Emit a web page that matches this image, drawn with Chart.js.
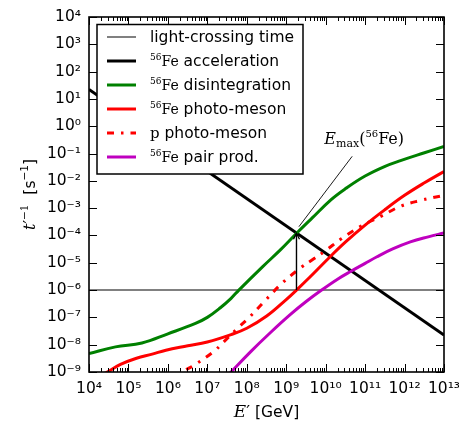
<!DOCTYPE html>
<html><head><meta charset="utf-8">
<script src="https://cdn.jsdelivr.net/npm/chart.js@4/dist/chart.umd.min.js"></script>
<style>html,body{margin:0;padding:0;background:#fff}</style>
</head><body>
<canvas id="c" width="459" height="423"></canvas>
<script>
// ---- tick values ----
const xTicks = [1e4,1e5,1e6,1e7,1e8,1e9,1e10,1e11,1e12,1e13];
const yTicks = [1e-9,1e-8,1e-7,1e-6,1e-5,1e-4,1e-3,1e-2,1e-1,1e0,1e1,1e2,1e3,1e4];
const minorMultipliers = [2,3,4,5,6,7,8,9];

// ---- series (E' in GeV, t'^-1 in s^-1) ----
const lightE = [1e4, 1e13];
const lightRate = [1e-6, 1e-6];

const accE = [1e4, 1e13];
const accRate = [22.4, 2.24e-8];

const disE = [1e4, 4.7e4, 2.2e5, 1e6, 5e6, 1e7, 2.1e7, 4e7, 6.3e7, 2.5e8, 7.1e8, 1.86e9, 4.5e9, 1.4e10, 3.2e10, 1e11, 3.2e11, 7.9e11, 3.2e12, 1e13];
const disRate = [4.7e-9, 8.3e-9, 1.15e-8, 2.5e-8, 6.0e-8, 1.0e-7, 2.2e-7, 5.0e-7, 1.0e-6, 7.1e-6, 2.95e-5, 1.23e-4, 4.3e-4, 2.1e-3, 5.2e-3, 1.5e-2, 3.4e-2, 5.5e-2, 0.107, 0.182];

const feMesonE = [1e4, 2.9e4, 6.3e4, 1.6e5, 4e5, 8.9e5, 3.2e6, 1e7, 4e7, 1e8, 3.2e8, 1e9, 1.82e9, 4e9, 1.26e10, 3.2e10, 1e11, 3.2e11, 1e12, 3.2e12, 1e13];
const feMesonRate = [4.7e-10, 1e-9, 1.9e-9, 3.2e-9, 4.5e-9, 6.3e-9, 9.1e-9, 1.26e-8, 2.35e-8, 4.0e-8, 1.12e-7, 4.5e-7, 1e-6, 3.0e-6, 1.6e-5, 5.8e-5, 2.4e-4, 8.9e-4, 2.95e-3, 8.5e-3, 2.2e-2];

const pMesonE = [1e6, 2.3e6, 4.5e6, 1.45e7, 2.5e7, 6.6e7, 1.12e8, 2.95e8, 7.9e8, 2.3e9, 5e9, 1e10, 2.5e10, 7.9e10, 2.5e11, 7.9e11, 2.5e12, 1e13];
const pMesonRate = [3.5e-10, 1e-9, 1.74e-9, 5.6e-9, 1.2e-8, 4.7e-8, 9.5e-8, 4.2e-7, 1.8e-6, 6.5e-6, 1.4e-5, 2.8e-5, 7.6e-5, 2.2e-4, 5e-4, 1.17e-3, 1.9e-3, 2.95e-3];

const pairE = [1.6e7, 4e7, 1.26e8, 4e8, 1.26e9, 3.2e9, 7.9e9, 2e10, 4.3e10, 1e11, 2e11, 5e11, 1.4e12, 4e12, 1e13];
const pairRate = [2.5e-10, 1e-9, 5.6e-9, 2.8e-8, 1.26e-7, 3.8e-7, 1e-6, 2.5e-6, 4.8e-6, 9.5e-6, 1.66e-5, 3.2e-5, 5.8e-5, 8.9e-5, 1.23e-4];

// ---- annotation (E_max arrow and pointer) ----
const arrowE = [1.82e9, 1.82e9];
const arrowRate = [1e-6, 1.2e-4];
const pointerE = [2.1e9, 4.7e10];
const pointerRate = [2.1e-4, 0.079];

const SANS = 'DejaVu Sans';
const SERIF = 'DejaVu Serif';

function pts(xs, ys){ return xs.map((v,i)=>({x:v, y:ys[i]})); }

const sup = {'0':'⁰','1':'¹','2':'²','3':'³','4':'⁴','5':'⁵','6':'⁶','7':'⁷','8':'⁸','9':'⁹','-':'⁻'};
function fmt(v){ const e = Math.round(Math.log10(v)); return '10' + String(e).split('').map(c=>sup[c]).join(''); }

function drawRich(ctx, pieces, x, y, align){
  let w = 0;
  pieces.forEach(p=>{ ctx.font = p.f; p.w = ctx.measureText(p.t).width; w += p.w; });
  let cx = align === 'center' ? x - w/2 : x;
  ctx.textBaseline = 'alphabetic'; ctx.textAlign = 'left'; ctx.fillStyle = '#000';
  pieces.forEach(p=>{ ctx.font = p.f; ctx.fillText(p.t, cx, y + (p.dy||0)); cx += p.w; });
}

const datasets = [
  {label:'light-crossing time', data:pts(lightE, lightRate), borderColor:'#808080', borderWidth:2, order:7, tension:0},
  {label:'56Fe acceleration', data:pts(accE, accRate), borderColor:'#000000', borderWidth:3, order:6, tension:0},
  {label:'56Fe disintegration', data:pts(disE, disRate), borderColor:'#008000', borderWidth:3, order:5},
  {label:'56Fe photo-meson', data:pts(feMesonE, feMesonRate), borderColor:'#ff0000', borderWidth:3, order:4},
  {label:'p photo-meson', data:pts(pMesonE, pMesonRate), borderColor:'#ff0000', borderWidth:3, borderDash:[7,7,2.5,7], order:3},
  {label:'56Fe pair prod.', data:pts(pairE, pairRate), borderColor:'#bf00bf', borderWidth:3, order:2},
  {label:'E_max arrow', data:pts(arrowE, arrowRate), borderColor:'#000000', borderWidth:1.4, order:1, tension:0},
  {label:'E_max pointer', data:pts(pointerE, pointerRate), borderColor:'#000000', borderWidth:0.9, order:0, tension:0}
];

const legendRows = [
  {ds:0, pieces:[{t:'light-crossing time', f:`15.5px "${SANS}"`}]},
  {ds:1, pieces:[{t:'56', f:`9px "${SERIF}"`, dy:-6},{t:'Fe', f:`14px "${SERIF}"`},{t:' acceleration', f:`15.5px "${SANS}"`}]},
  {ds:2, pieces:[{t:'56', f:`9px "${SERIF}"`, dy:-6},{t:'Fe', f:`14px "${SERIF}"`},{t:' disintegration', f:`15.5px "${SANS}"`}]},
  {ds:3, pieces:[{t:'56', f:`9px "${SERIF}"`, dy:-6},{t:'Fe', f:`14px "${SERIF}"`},{t:' photo-meson', f:`15.5px "${SANS}"`}]},
  {ds:4, pieces:[{t:'p', f:`15px "${SERIF}"`},{t:' photo-meson', f:`15.5px "${SANS}"`}]},
  {ds:5, pieces:[{t:'56', f:`9px "${SERIF}"`, dy:-6},{t:'Fe', f:`14px "${SERIF}"`},{t:' pair prod.', f:`15.5px "${SANS}"`}]}
];

const deco = {
  id:'deco',
  afterDatasetsDraw(chart){
    const {ctx, scales:{x, y}} = chart;
    ctx.save();
    const ax = x.getPixelForValue(arrowE[1]), ay = y.getPixelForValue(arrowRate[1]);
    ctx.strokeStyle = '#000'; ctx.lineWidth = 1.3;
    ctx.beginPath(); ctx.moveTo(ax-3, ay+6); ctx.lineTo(ax, ay); ctx.lineTo(ax+3, ay+6); ctx.stroke();
    const lx = x.getPixelForValue(pointerE[1]), ly = y.getPixelForValue(pointerRate[1]);
    drawRich(ctx, [
      {t:'E', f:`italic 16px "${SERIF}"`},
      {t:'max', f:`11px "${SERIF}"`, dy:3},
      {t:'(', f:`16px "${SERIF}"`},
      {t:'56', f:`10px "${SERIF}"`, dy:-7},
      {t:'Fe', f:`16px "${SERIF}"`},
      {t:')', f:`16px "${SERIF}"`}
    ], lx + 12, ly - 12, 'center');
    ctx.restore();
  },
  afterDraw(chart){
    const {ctx, chartArea:{left, right, top, bottom}, scales:{x, y}} = chart;
    ctx.save();
    ctx.strokeStyle = '#000'; ctx.lineWidth = 1;
    const seg = (x1,y1,x2,y2)=>{ ctx.beginPath(); ctx.moveTo(x1,y1); ctx.lineTo(x2,y2); ctx.stroke(); };
    xTicks.forEach(v=>{
      const px = Math.round(x.getPixelForValue(v)) + 0.5;
      seg(px, bottom, px, bottom-8); seg(px, top, px, top+8);
    });
    xTicks.slice(0,-1).forEach(d=>{
      minorMultipliers.forEach(k=>{
        const px = Math.round(x.getPixelForValue(k*d)) + 0.5;
        seg(px, bottom, px, bottom-4); seg(px, top, px, top+4);
      });
    });
    yTicks.forEach(v=>{
      const py = Math.round(y.getPixelForValue(v)) + 0.5;
      seg(left, py, left+8, py); seg(right, py, right-8, py);
    });
    ctx.lineWidth = 1.6;
    ctx.strokeRect(left, top, right-left, bottom-top);

    const lgL = left + 8, lgT = top + 7.5, lgW = 206, lgH = 149.5;
    ctx.fillStyle = '#fff'; ctx.fillRect(lgL, lgT, lgW, lgH);
    ctx.lineWidth = 1.5; ctx.strokeStyle = '#000'; ctx.strokeRect(lgL, lgT, lgW, lgH);
    legendRows.forEach((r, i)=>{
      const ds = chart.data.datasets[r.ds];
      const cy = lgT + 12.5 + i*24;
      ctx.save();
      ctx.strokeStyle = ds.borderColor; ctx.lineWidth = ds.borderWidth;
      ctx.setLineDash(ds.borderDash || []); ctx.lineCap = 'butt';
      seg(lgL + 10, cy, lgL + 39, cy);
      ctx.restore();
      drawRich(ctx, r.pieces, lgL + 53, cy + 5, 'left');
    });

    drawRich(ctx, [
      {t:'E', f:`italic 17px "${SERIF}"`},
      {t:'′', f:`17px "${SERIF}"`},
      {t:' [GeV]', f:`15.5px "${SANS}"`}
    ], (left+right)/2, 417, 'center');
    ctx.save();
    ctx.translate(35, (top+bottom)/2);
    ctx.rotate(-Math.PI/2);
    drawRich(ctx, [
      {t:'t', f:`italic 16px "${SERIF}"`},
      {t:'′', f:`16px "${SERIF}"`},
      {t:'−1', f:`10.5px "${SERIF}"`, dy:-7},
      {t:'  [s', f:`15.5px "${SANS}"`},
      {t:'−1', f:`10.5px "${SANS}"`, dy:-7},
      {t:']', f:`15.5px "${SANS}"`}
    ], 0, 0, 'center');
    ctx.restore();
    ctx.restore();
  }
};

const tickFont = {family:SANS, size:15.5};
new Chart(document.getElementById('c'), {
  type:'line',
  data:{datasets},
  plugins:[deco],
  options:{
    responsive:false, animation:false, devicePixelRatio:1,
    layout:{padding:{left:0, right:15, top:17, bottom:0}},
    elements:{point:{radius:0, hoverRadius:0}, line:{borderCapStyle:'butt', tension:0.4}},
    datasets:{line:{clip:0, fill:false}},
    plugins:{legend:{display:false}, tooltip:{enabled:false}, title:{display:false}},
    scales:{
      x:{type:'logarithmic', min:1e4, max:1e13,
        afterBuildTicks:s=>{ s.ticks = xTicks.map(v=>({value:v})); },
        afterFit:s=>{ s.height = 51; s.paddingLeft = 0; s.paddingRight = 0; },
        grid:{display:false, drawTicks:false}, border:{display:false},
        ticks:{autoSkip:false, maxRotation:0, minRotation:0, padding:8, color:'#000', font:tickFont, callback:v=>fmt(v)}},
      y:{type:'logarithmic', min:1e-9, max:1e4,
        afterBuildTicks:s=>{ s.ticks = yTicks.map(v=>({value:v})); },
        afterFit:s=>{ s.width = 89; s.paddingTop = 0; s.paddingBottom = 0; },
        grid:{display:false, drawTicks:false}, border:{display:false},
        ticks:{autoSkip:false, padding:8, color:'#000', font:tickFont, callback:v=>fmt(v)}}
    }
  }
});
</script>
</body></html>
